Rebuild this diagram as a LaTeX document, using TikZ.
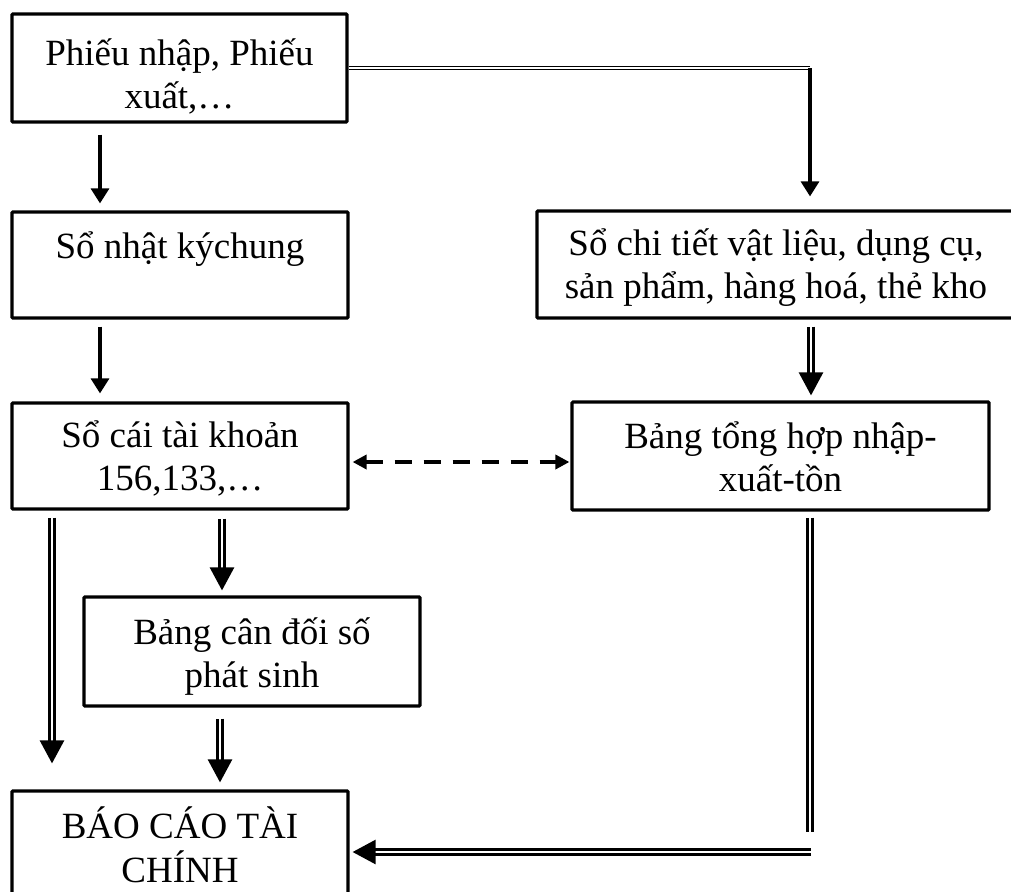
\documentclass[tikz,border=0pt]{standalone}
\usepackage{fontspec}
\setmainfont{Liberation Serif}
\usetikzlibrary{arrows.meta}
\newcommand{\boxlines}[1]{\begin{tabular}[t]{@{}c@{}}#1\end{tabular}}
\begin{document}
\begin{tikzpicture}[x=1pt,y=-1pt,
  box/.style={draw, line width=3.2pt, inner sep=0pt, rounded corners=1pt},
  txt/.style={font=\fontsize{37}{43}\selectfont, anchor=base, inner sep=0pt},
  sarrow/.style={line width=3.2pt, -{Triangle[length=15pt,width=18pt]}},
  dline/.style={double, line width=2.6pt, double distance=2.4pt},
  darrow/.style={dline, -{Triangle[length=23pt,width=24pt]}},
  thindouble/.style={double, line width=1.4pt, double distance=1.4pt},
  dasharrow/.style={line width=4pt, dash pattern=on 17pt off 12pt,
    {Triangle[length=14pt,width=14pt]}-{Triangle[length=14pt,width=14pt]}}]
\useasboundingbox (0,0) rectangle (1011,891);
\clip (0,0) rectangle (1011,891);

% boxes
\node[box, minimum width=335pt, minimum height=108pt] (b1) at (179.5,68) {};
\node[box, minimum width=336pt, minimum height=106pt] (b2) at (180,265) {};
\node[box, minimum width=336pt, minimum height=106pt] (b3) at (180,456) {};
\node[box, minimum width=336pt, minimum height=109pt] (b4) at (252,651.5) {};
\node[box, minimum width=336pt, minimum height=108pt] (b5) at (180,845) {};
\node[box, minimum width=478pt, minimum height=107pt] (r1) at (776,264.5) {};
\node[box, minimum width=417pt, minimum height=108pt] (r2) at (780.5,456) {};

% texts
\node[txt] (t1) at (179.5,66) {\boxlines{Phiếu nhập, Phiếu\\xuất,…}};
\node[txt] (t2) at (180,258) {Sổ nhật kýchung};
\node[txt] (t3) at (180,447) {\boxlines{Sổ cái tài khoản\\156,133,…}};
\node[txt] (t4) at (252,644) {\boxlines{Bảng cân đối số\\phát sinh}};
\node[txt] (t5) at (180,838) {\boxlines{BÁO CÁO TÀI\\CHÍNH}};
\node[txt] (t6) at (776,255) {\boxlines{Sổ chi tiết vật liệu, dụng cụ,\\sản phẩm, hàng hoá, thẻ kho}};
\node[txt] (t7) at (780.5,448) {\boxlines{Bảng tổng hợp nhập-\\xuất-tồn}};

% lanes and bends
\coordinate (xA) at (100,0);
\coordinate (xL) at (52,0);
\coordinate (xM) at (222,0);
\coordinate (xN) at (220,0);
\coordinate (xR) at (811,0);
\coordinate (yD) at (0,462);
\coordinate (k1) at (810,68);
\coordinate (k2) at (810,832);
\coordinate (k3) at (811,852);

% connectors
\draw[sarrow, shorten <=11pt, shorten >=7pt] (b1.south -| xA) -- (b2.north -| xA);
\draw[sarrow, shorten <=7pt, shorten >=8pt] (b2.south -| xA) -- (b3.north -| xA);
\draw[thindouble] (b1.east) -- (k1);
\draw[sarrow, shorten >=13pt] (k1) -- (k1 |- r1.north);
\draw[darrow, shorten <=7pt, shorten >=5pt] (r1.south -| xR) -- (r2.north -| xR);
\draw[dasharrow, shorten <=3pt, shorten >=1pt] (b3.east |- yD) -- (r2.west |- yD);
\draw[darrow, shorten <=7pt, shorten >=26pt] (b3.south -| xL) -- (b5.north -| xL);
\draw[darrow, shorten <=8pt, shorten >=5pt] (b3.south -| xM) -- (b4.north -| xM);
\draw[darrow, shorten <=11pt, shorten >=7pt] (b4.south -| xN) -- (b5.north -| xN);
\draw[dline, shorten <=6pt] (r2.south -| k2) -- (k2);
\draw[darrow, shorten >=3pt] (k3) -- (b5.east |- k3);
\end{tikzpicture}
\end{document}
